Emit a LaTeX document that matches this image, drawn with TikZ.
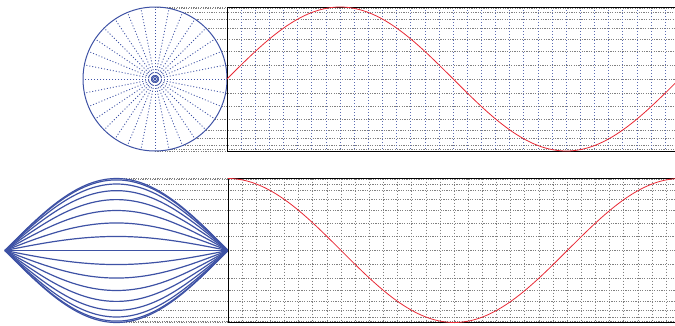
\documentclass[tikz,border=0pt]{standalone}
\usepackage{tikz}
\usetikzlibrary{calc}
\definecolor{wheelblue}{RGB}{62,82,165}
\definecolor{wavered}{RGB}{232,40,52}
\tikzset{
  spoke/.style={wheelblue, line width=0.85pt, dash pattern=on 1pt off 2pt},
  rimline/.style={wheelblue, line width=1pt},
  levelline/.style={gray, line width=0.8pt, dash pattern=on 1.2pt off 1.2pt},
  gridblue/.style={wheelblue!85, line width=0.85pt, dash pattern=on 1pt off 2pt},
  gridgray/.style={gray, line width=0.85pt, dash pattern=on 1pt off 2pt},
  framebox/.style={black, line width=1pt},
  wave/.style={wavered, line width=0.8pt},
  lens/.style={wheelblue, line width=1.2pt},
}
\begin{document}
\begin{tikzpicture}[x=1pt,y=-1pt]
  \clip (0,0) rectangle (675,325);
  \def\rad{72}
  \def\per{452.4}
  % top: wheel and sine
  \coordinate (C) at (155,79);
  \foreach \k in {-8,...,8}
    \draw[levelline] ({155+\rad*cos(\k*11.25)},{79-\rad*sin(\k*11.25)}) -- (680,{79-\rad*sin(\k*11.25)});
  \foreach \k in {1,...,31}
    \draw[gridblue] ({227+\k*\per/32},7) -- ++(0,144);
  \foreach \k in {0,...,31}
    \draw[spoke] (C) -- ++({\k*11.25}:\rad);
  \draw[rimline] (C) circle (\rad);
  \draw[rimline] (C) circle (2.5);
  \draw[framebox] (227,7) rectangle ({227+\per},151);
  \draw[wave] plot[domain=0:360, samples=150] ({227+\x/360*\per},{79-\rad*sin(\x)});
  % bottom: lens and cosine
  \foreach \k in {-8,...,8}
    \draw[levelline] ({5+(180-abs(\k*11.25))/180*223},{250.5-\rad*sin(\k*11.25)}) -- (680,{250.5-\rad*sin(\k*11.25)});
  \foreach \k in {1,...,31}
    \draw[gridgray] ({228+\k*\per/32},178.5) -- ++(0,144);
  \foreach \k in {-8,...,8}
    \draw[lens] plot[domain=0:180, samples=60] ({5+\x/180*223},{250.5-\rad*sin(\k*11.25)*sin(\x)});
  \draw[framebox] (228,178.5) rectangle ({228+\per},322.5);
  \draw[wave] plot[domain=0:360, samples=150] ({228+\x/360*\per},{250.5-\rad*cos(\x)});
\end{tikzpicture}
\end{document}
